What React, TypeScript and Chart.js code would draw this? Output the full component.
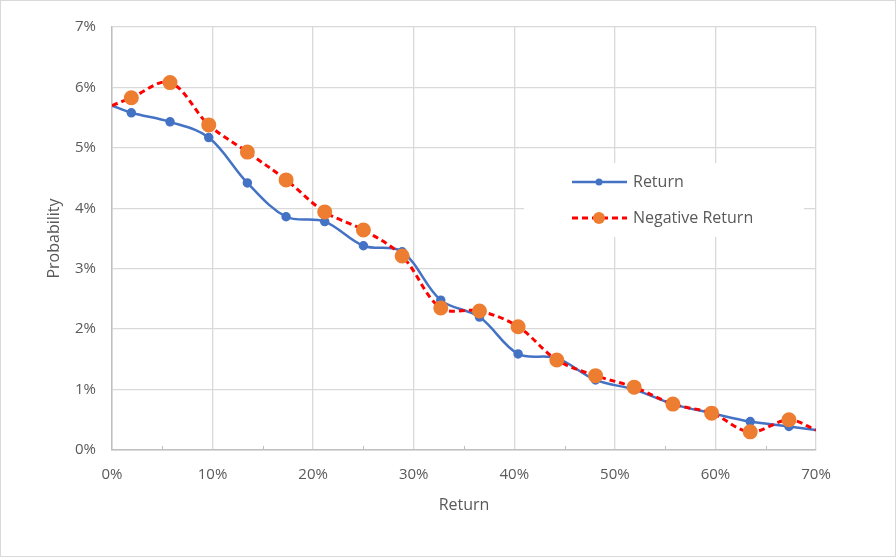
import { useEffect, useRef } from "react";
import { Chart, registerables } from "chart.js";

Chart.register(...registerables);

// Return bins (%)
const returnX = [0, 1.92, 5.77, 9.62, 13.46, 17.31, 21.15, 25.0, 28.85, 32.69, 36.54, 40.38, 44.23, 48.08, 51.92, 55.77, 59.62, 63.46, 67.31, 70];
// Probability (%)
const returnProb = [5.7, 5.58, 5.43, 5.17, 4.42, 3.86, 3.78, 3.38, 3.28, 2.48, 2.2, 1.59, 1.52, 1.16, 1.0, 0.76, 0.61, 0.47, 0.39, 0.33];
const negativeProb = [5.7, 5.83, 6.08, 5.38, 4.93, 4.47, 3.94, 3.64, 3.21, 2.35, 2.3, 2.04, 1.49, 1.23, 1.04, 0.76, 0.61, 0.3, 0.5, 0.33];

const seriesNames = ["Return", "Negative Return"];
const minorTicks = [5, 15, 25, 35, 45, 55, 65];

const FONT = "'Open Sans', sans-serif";
const TEXT = "#595959";

export default function App() {
    const canvasRef = useRef<HTMLCanvasElement | null>(null);

    useEffect(() => {
        if (!canvasRef.current) return;

        const hideEnds = (ctx: any) => (ctx.dataIndex === 0 || ctx.dataIndex === returnX.length - 1 ? 0 : undefined);

        const frame = {
            id: "frame",
            beforeDraw(chart: any) {
                const { ctx, width, height } = chart;
                ctx.save();
                ctx.fillStyle = "#fff";
                ctx.fillRect(0, 0, width, height);
                ctx.strokeStyle = "#d9d9d9";
                ctx.lineWidth = 1;
                ctx.strokeRect(0.5, 0.5, width - 1, height - 1);
                ctx.restore();
            },
        };

        const minor = {
            id: "minor",
            afterDraw(chart: any) {
                const { ctx } = chart;
                const xs = chart.scales.x;
                const y0 = chart.chartArea.bottom;
                ctx.save();
                ctx.strokeStyle = "#bfbfbf";
                ctx.lineWidth = 1;
                minorTicks.forEach((v) => {
                    const px = Math.round(xs.getPixelForValue(v)) + 0.5;
                    ctx.beginPath();
                    ctx.moveTo(px, y0);
                    ctx.lineTo(px, y0 - 4);
                    ctx.stroke();
                });
                ctx.restore();
            },
        };

        const legendBox = {
            id: "legendBox",
            afterDraw(chart: any) {
                const { ctx } = chart;
                ctx.save();
                ctx.fillStyle = "#fff";
                ctx.fillRect(524, 163, 280, 74);

                // Return
                ctx.strokeStyle = "#4472c4";
                ctx.lineWidth = 2.5;
                ctx.beginPath();
                ctx.moveTo(572, 182);
                ctx.lineTo(627, 182);
                ctx.stroke();
                ctx.fillStyle = "#4472c4";
                ctx.beginPath();
                ctx.arc(599, 182, 3.5, 0, Math.PI * 2);
                ctx.fill();

                // Negative Return
                ctx.strokeStyle = "#ff0000";
                ctx.lineWidth = 3;
                ctx.setLineDash([6, 4]);
                ctx.beginPath();
                ctx.moveTo(572, 218);
                ctx.lineTo(627, 218);
                ctx.stroke();
                ctx.setLineDash([]);
                ctx.fillStyle = "#ed7d31";
                ctx.beginPath();
                ctx.arc(599, 218, 6, 0, Math.PI * 2);
                ctx.fill();

                ctx.fillStyle = TEXT;
                ctx.font = `16px ${FONT}`;
                ctx.textBaseline = "middle";
                ctx.fillText(seriesNames[0], 633, 182);
                ctx.fillText(seriesNames[1], 633, 218);
                ctx.restore();
            },
        };

        const chart = new Chart(canvasRef.current, {
            type: "line",
            data: {
                datasets: [
                    {
                        label: seriesNames[1],
                        data: returnX.map((x, i) => ({ x, y: negativeProb[i] })),
                        borderColor: "#ff0000",
                        borderWidth: 3,
                        borderDash: [6, 4],
                        pointBackgroundColor: "#ed7d31",
                        pointBorderColor: "#ed7d31",
                        pointRadius: (ctx: any) => hideEnds(ctx) ?? 6,
                        tension: 0.35,
                    },
                    {
                        label: seriesNames[0],
                        data: returnX.map((x, i) => ({ x, y: returnProb[i] })),
                        borderColor: "#4472c4",
                        borderWidth: 2.5,
                        pointBackgroundColor: "#4472c4",
                        pointBorderColor: "#4472c4",
                        pointRadius: (ctx: any) => hideEnds(ctx) ?? 3.5,
                        tension: 0.35,
                    },
                ],
            },
            options: {
                responsive: false,
                animation: false,
                layout: { padding: { left: 0, right: 80, top: 27, bottom: 0 } },
                plugins: {
                    legend: { display: false },
                    tooltip: { enabled: false },
                },
                scales: {
                    x: {
                        type: "linear",
                        min: 0,
                        max: 70,
                        ticks: {
                            stepSize: 10,
                            color: TEXT,
                            font: { family: FONT, size: 15 },
                            padding: 16,
                            maxRotation: 0,
                            callback: (v: any) => v + "%",
                        },
                        grid: { color: "#d9d9d9", lineWidth: 1.3, drawTicks: false },
                        border: { color: "#bfbfbf", width: 1.5 },
                        title: {
                            display: true,
                            text: "Return",
                            color: TEXT,
                            font: { family: FONT, size: 16 },
                            padding: { bottom: 42 },
                        },
                        afterFit: (s: any) => {
                            s.height = 107;
                        },
                    },
                    y: {
                        min: 0,
                        max: 7,
                        ticks: {
                            stepSize: 1,
                            color: TEXT,
                            font: { family: FONT, size: 15 },
                            padding: 16,
                            callback: (v: any) => v + "%",
                        },
                        grid: { color: "#d9d9d9", lineWidth: 1.3, drawTicks: false },
                        border: { color: "#bfbfbf", width: 1.5 },
                        title: {
                            display: true,
                            text: "Probability",
                            color: TEXT,
                            font: { family: FONT, size: 16 },
                            padding: { top: 45 },
                        },
                        afterFit: (s: any) => {
                            s.width = 112;
                        },
                    },
                },
            },
            plugins: [frame, minor, legendBox],
        });

        return () => chart.destroy();
    }, []);

    return (
        <div style={{ position: "absolute", left: 0, top: 0, width: 896, height: 557 }}>
            <canvas ref={canvasRef} width={896} height={557}></canvas>
        </div>
    );
}
